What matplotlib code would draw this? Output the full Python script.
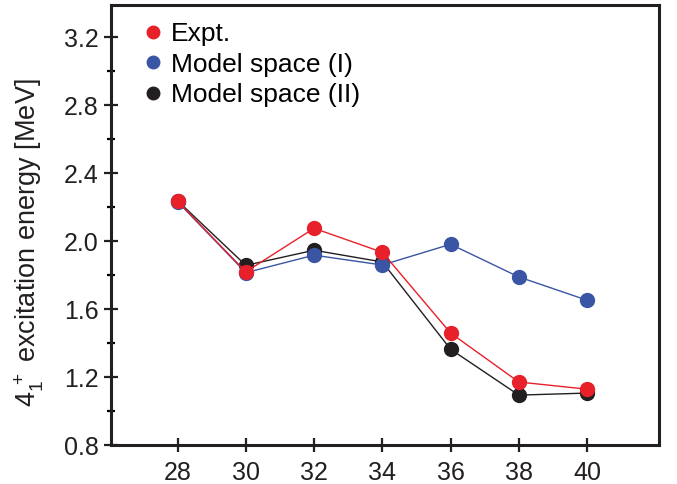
import numpy as np
import matplotlib.pyplot as plt
from matplotlib.lines import Line2D
from matplotlib.ticker import MultipleLocator

plt.rcParams['font.family'] = ['Liberation Sans', 'DejaVu Sans']
plt.rcParams['mathtext.fontset'] = 'custom'
plt.rcParams['mathtext.rm'] = 'Liberation Sans'

# neutron number
N = [28, 30, 32, 34, 36, 38, 40]
expt = [2.235, 1.82, 2.076, 1.935, 1.46, 1.172, 1.13]
model1 = [2.232, 1.815, 1.918, 1.86, 1.982, 1.79, 1.653]
model2 = [2.238, 1.858, 1.947, 1.878, 1.365, 1.095, 1.107]

red = '#e8202a'
blue = '#3a55a4'
black = '#231f20'

fig, ax = plt.subplots(figsize=(6.77, 4.84), dpi=100)
fig.subplots_adjust(left=0.164, right=0.973, top=0.99, bottom=0.08)

ax.plot(N, model2, '-o', color=black, lw=1.0, ms=10, zorder=2)
ax.plot(N, model1, '-o', color=blue, lw=1.0, ms=10, zorder=3)
ax.plot(N, expt, '-o', color=red, lw=1.0, ms=10, zorder=4)

ax.set_xlim(26.05, 42.1)
ax.set_ylim(0.8, 3.39)
ax.set_xticks(N)
ax.yaxis.set_minor_locator(MultipleLocator(0.2))
ax.set_yticks(np.arange(0.8, 3.3, 0.4))
ax.set_yticklabels(['0.8', '1.2', '1.6', '2.0', '2.4', '2.8', '3.2'])

for s in ax.spines.values():
    s.set_linewidth(2.2)
    s.set_color(black)
ax.tick_params(axis='y', which='major', direction='inout', length=10, width=1.6,
               labelsize=18, colors=black, pad=4)
ax.tick_params(axis='y', which='minor', direction='inout', length=6, width=1.6)
ax.tick_params(axis='x', which='major', direction='inout', length=10, width=1.6,
               labelsize=18, colors=black, pad=6)

ax.set_ylabel(r'$4_1^{\,+}$ excitation energy [MeV]', fontsize=19.5, color=black)
ax.yaxis.set_label_coords(-0.119, 0.461)

handles = [Line2D([], [], ls='none', marker='o', color=red, ms=9),
           Line2D([], [], ls='none', marker='o', color=blue, ms=9),
           Line2D([], [], ls='none', marker='o', color=black, ms=9)]
ax.legend(handles, ['Expt.', 'Model space (I)', 'Model space (II)'], loc='upper left',
          frameon=False, fontsize=19, handletextpad=0.1, labelspacing=0.25,
          borderaxespad=0.4, handlelength=1.2, bbox_to_anchor=(0.009, 1.009))

fig.savefig('out.png', dpi=100)
